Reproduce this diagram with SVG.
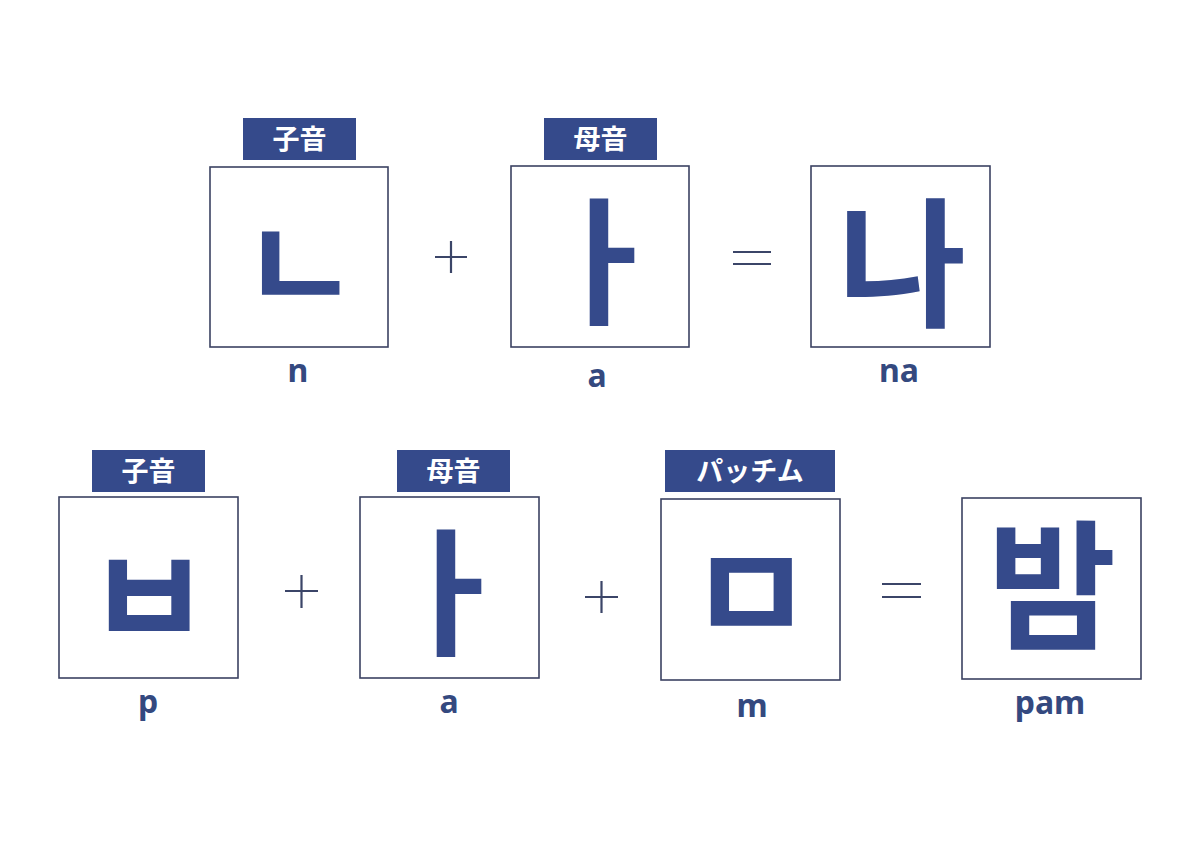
<svg xmlns="http://www.w3.org/2000/svg" width="1200" height="848" viewBox="0 0 1200 848">
<style>
.box{fill:#fff;stroke:#3b4262;stroke-width:1.6}
.tag{fill:#354a8b}
.tagt{fill:#fff;font-family:"Noto Sans CJK JP","Noto Sans CJK KR",sans-serif;font-weight:700;font-size:27px;text-anchor:middle}
.g{fill:#354a8b;font-family:"Noto Sans CJK KR",sans-serif;font-weight:700;text-anchor:middle}
.cap{fill:#34497f;font-family:"Noto Sans","Open Sans",sans-serif;font-weight:700;font-size:32px;text-anchor:middle}
.op{stroke:#3b4568;stroke-width:2.2;fill:none}
</style>
<rect width="1200" height="848" fill="#fff"/>
<g id="n1">
<rect class="tag" x="243" y="118" width="113" height="42"/>
<text class="tagt" x="299.5" y="149">子音</text>
<rect class="box" x="210" y="167" width="178" height="180"/>
<text class="g" x="300" y="313" font-size="130">ㄴ</text>
<text class="cap" x="298" y="382">n</text>
</g>
<g id="n2">
<rect class="tag" x="544" y="118" width="113" height="42"/>
<text class="tagt" x="600.5" y="149">母音</text>
<rect class="box" x="511" y="166" width="178" height="181"/>
<text class="g" x="603" y="313" font-size="138">ㅏ</text>
<text class="cap" x="597" y="387">a</text>
</g>
<g id="n3">
<rect class="box" x="811" y="166" width="179" height="181"/>
<text class="g" x="902" y="316" font-size="140">나</text>
<text class="cap" x="899" y="382">na</text>
</g>
<g id="n4">
<rect class="tag" x="92" y="450" width="113" height="42"/>
<text class="tagt" x="148.5" y="481">子音</text>
<rect class="box" x="59" y="497" width="179" height="181"/>
<text class="g" x="149" y="648" font-size="138">ㅂ</text>
<text class="cap" x="148" y="713">p</text>
</g>
<g id="n5">
<rect class="tag" x="397" y="450" width="113" height="42"/>
<text class="tagt" x="453.5" y="481">母音</text>
<rect class="box" x="360" y="497" width="179" height="181"/>
<text class="g" x="450" y="644" font-size="138">ㅏ</text>
<text class="cap" x="449" y="713">a</text>
</g>
<g id="n6">
<rect class="tag" x="665" y="450" width="170" height="42"/>
<text class="tagt" x="750" y="481">パッチム</text>
<rect class="box" x="661" y="499" width="179" height="181"/>
<text class="g" x="751" y="644" font-size="138">ㅁ</text>
<text class="cap" x="752" y="717">m</text>
</g>
<g id="n7">
<rect class="box" x="962" y="498" width="179" height="181"/>
<text class="g" x="1052" y="638" font-size="140">밤</text>
<text class="cap" x="1050" y="714">pam</text>
</g>
<g id="connectors">
<path class="op" d="M435 257H467M451 241V273"/>
<path class="op" d="M733 252H771M733 264H771"/>
<path class="op" d="M285 591H318M301.5 575V608"/>
<path class="op" d="M585 597H618M601.5 581V613"/>
<path class="op" d="M882 584H921M882 597H921"/>
</g>
</svg>
